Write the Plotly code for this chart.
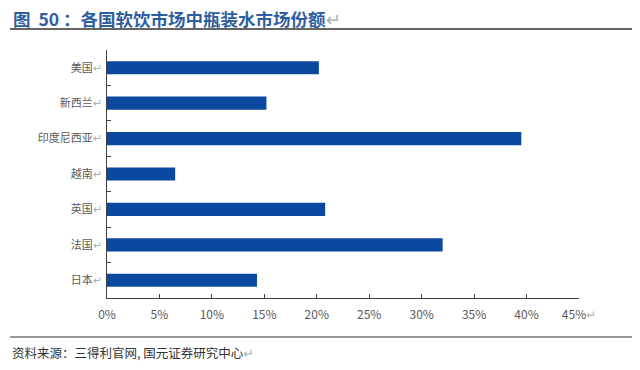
import plotly.graph_objects as go

categories = ["美国", "新西兰", "印度尼西亚", "越南", "英国", "法国", "日本"]
shares = [20.2, 15.2, 39.5, 6.5, 20.8, 32.0, 14.3]
x_ticks = [0, 5, 10, 15, 20, 25, 30, 35, 40, 45]
x_tick_labels = ["0%", "5%", "10%", "15%", "20%", "25%", "30%", "35%", "40%", "45%"]

RET = '<span style="color:#b0b0b0">↵</span>'
FONT = "Noto Sans CJK SC"

W, H = 640, 370
L, T = 107, 50
PW, PH = 472, 248

def px(xp):
    return (xp - L) / PW

def py(yp):
    return 1 - (yp - T) / PH

fig = go.Figure()
fig.add_trace(go.Bar(
    y=categories, x=shares, orientation="h",
    marker=dict(color="#0B48A0", line=dict(width=0)),
    width=0.37,
))

fig.update_layout(
    width=W, height=H,
    margin=dict(l=L, r=W - L - PW, t=T, b=H - T - PH),
    paper_bgcolor="white", plot_bgcolor="white",
    showlegend=False,
    font=dict(family=FONT, size=11, color="#595959"),
)
fig.update_xaxes(
    range=[0, 45], tickvals=x_ticks,
    ticktext=[t if t != "45%" else t + RET for t in x_tick_labels],
    showgrid=False, zeroline=False,
    showline=True, linecolor="#404040", linewidth=1,
    ticks="inside", ticklen=4, tickcolor="#404040",
    ticklabelstandoff=6,
    tickfont=dict(size=12, color="#595959"),
)
fig.update_yaxes(
    categoryorder="array", categoryarray=categories[::-1],
    tickvals=categories, ticktext=[c + RET for c in categories],
    showgrid=False, zeroline=False,
    showline=True, linecolor="#404040", linewidth=1,
    ticks="inside", ticklen=4, tickcolor="#404040", tickson="boundaries",
    ticklabelstandoff=2,
    tickfont=dict(size=11, color="#595959"),
)

# title and source
fig.add_annotation(
    xref="paper", yref="paper", x=px(11), y=py(18),
    xanchor="left", yanchor="middle", showarrow=False,
    text='<b>图\u00a0\u00a050\u00a0：各国软饮市场中瓶装水市场份额</b>' + RET,
    font=dict(family=FONT, size=17.5, color="#2F5E9F"),
)
fig.add_annotation(
    xref="paper", yref="paper", x=px(10), y=py(352),
    xanchor="left", yanchor="middle", showarrow=False,
    text='资料来源：三得利官网, 国元证券研究中心' + RET,
    font=dict(family=FONT, size=12.5, color="#333333"),
)
fig.add_shape(type="line", xref="paper", yref="paper",
              x0=px(10), x1=px(632), y0=py(29), y1=py(29),
              line=dict(color="#303030", width=1.5))
fig.add_shape(type="line", xref="paper", yref="paper",
              x0=px(10), x1=px(632), y0=py(337), y1=py(337),
              line=dict(color="#303030", width=1))

fig.write_html("out.html", config={"displayModeBar": False},
               post_script="document.body.style.margin='0';")
